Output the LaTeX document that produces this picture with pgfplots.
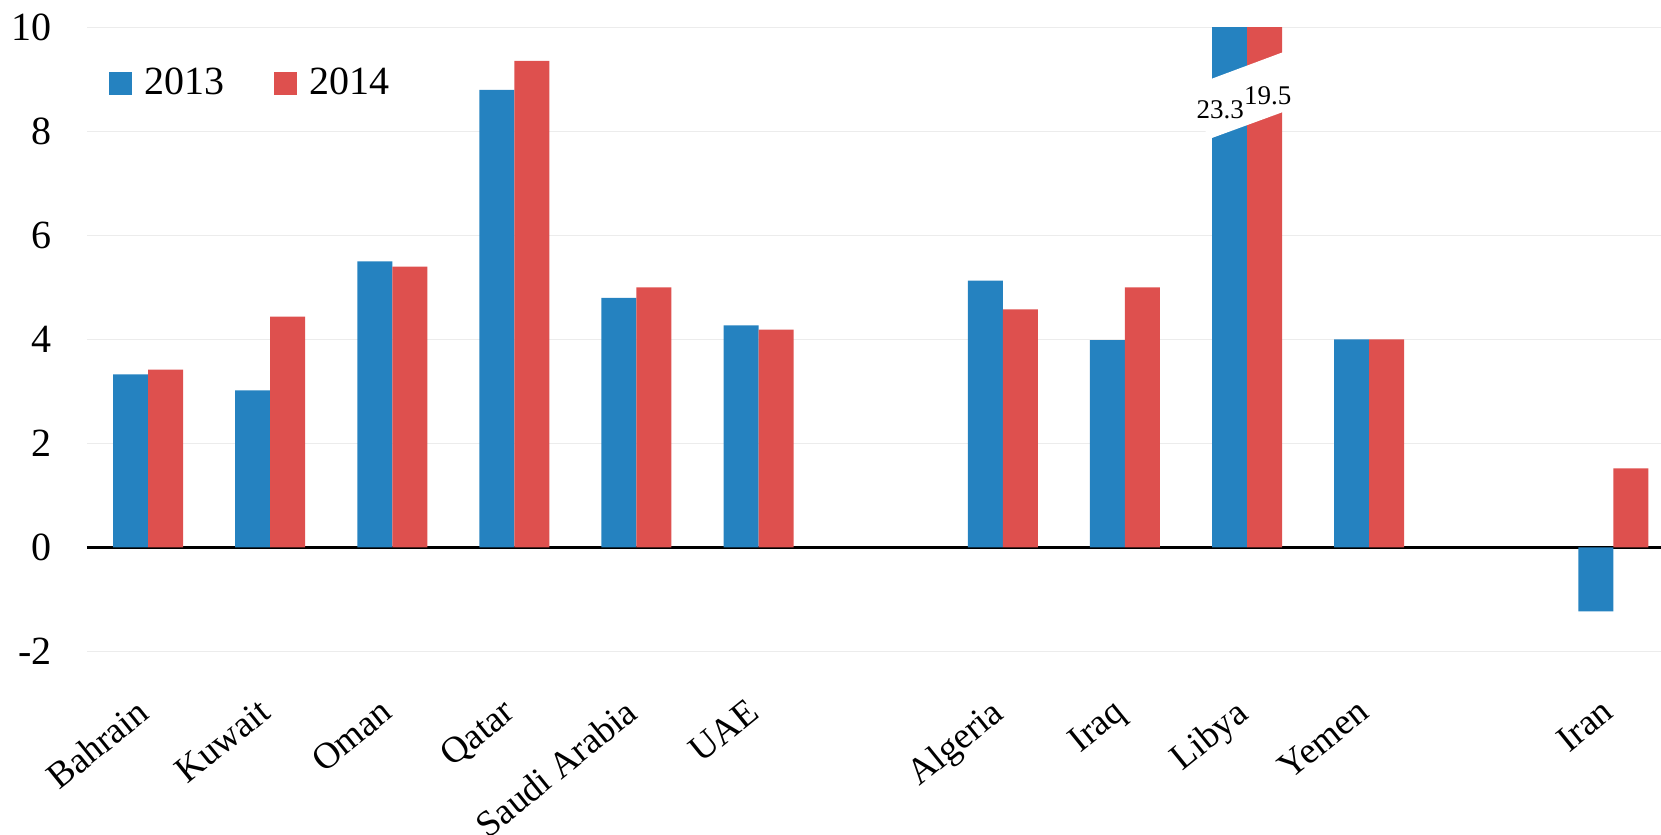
\documentclass[border=0pt]{standalone}
\usepackage{pgfplots}
\pgfplotsset{compat=1.18}
\usepackage{fontspec}
\setmainfont{Liberation Serif}
\definecolor{cblue}{RGB}{37,130,192}
\definecolor{cred}{RGB}{222,80,78}
\definecolor{cgrid}{RGB}{236,236,236}
\begin{document}
\begin{tikzpicture}
\useasboundingbox (-43.5pt,-91.75pt) rectangle (787pt,325.75pt);
\begin{axis}[
  at={(0,0)}, anchor=south west,
  scale only axis, width=787pt, height=312pt,
  xmin=-0.5, xmax=12.39, ymin=-2, ymax=10,
  axis line style={draw=none}, major tick length=0pt,
  ytick={-2,2,4,6,8,10},
  extra y ticks={0},
  extra y tick style={grid style={black,line width=1.1pt}},
  ymajorgrids, grid style={cgrid,line width=0.8pt},
  xtick={0,1,2,3,4,5,7,8,9,10,12},
  xticklabels={Bahrain,Kuwait,Oman,Qatar,Saudi Arabia,UAE,Algeria,Iraq,Libya,Yemen,Iran},
  /pgf/number format/assume math mode=true,
  yticklabel style={font=\fontsize{20}{24}\selectfont, anchor=east, xshift=-14pt},
  xticklabel style={font=\fontsize{18.5}{22}\selectfont, rotate=39, anchor=north east, xshift=-16pt, yshift=-10pt},
  ybar, bar width=17.5pt,
  legend style={at={(axis description cs:0.014,0.911)}, anchor=west, draw=none, fill=none,
    font=\fontsize{20}{24}\selectfont, inner sep=0pt,
    /tikz/every even column/.append style={column sep=22.8pt}},
  legend columns=2,
  legend image code/.code={\fill[#1] (0pt,-5.75pt) rectangle (11.5pt,5.75pt); \path (15.7pt,0pt);},
]
\addplot[fill=cblue, draw=none, bar shift=-8.75pt] coordinates {
 (0,3.33) (1,3.02) (2,5.5) (3,8.8) (4,4.8) (5,4.27) (7,5.13) (8,3.99) (9,23.3) (10,4.0) (12,-1.23)};
\addplot[fill=cred, draw=none, bar shift=8.75pt] coordinates {
 (0,3.42) (1,4.44) (2,5.4) (3,9.36) (4,5.0) (5,4.19) (7,4.58) (8,5.0) (9,19.5) (10,4.0) (12,1.52)};
\legend{2013,2014}
\fill[white] (axis cs:8.66,7.83) -- (axis cs:9.30,8.38) -- (axis cs:9.30,9.53) -- (axis cs:8.66,8.97) -- cycle;
\node[font=\fontsize{13.5}{16}\selectfont, inner sep=0pt] at (axis cs:8.78,8.41) {23.3};
\node[font=\fontsize{13.5}{16}\selectfont, inner sep=0pt] at (axis cs:9.17,8.69) {19.5};
\end{axis}
\end{tikzpicture}
\end{document}
